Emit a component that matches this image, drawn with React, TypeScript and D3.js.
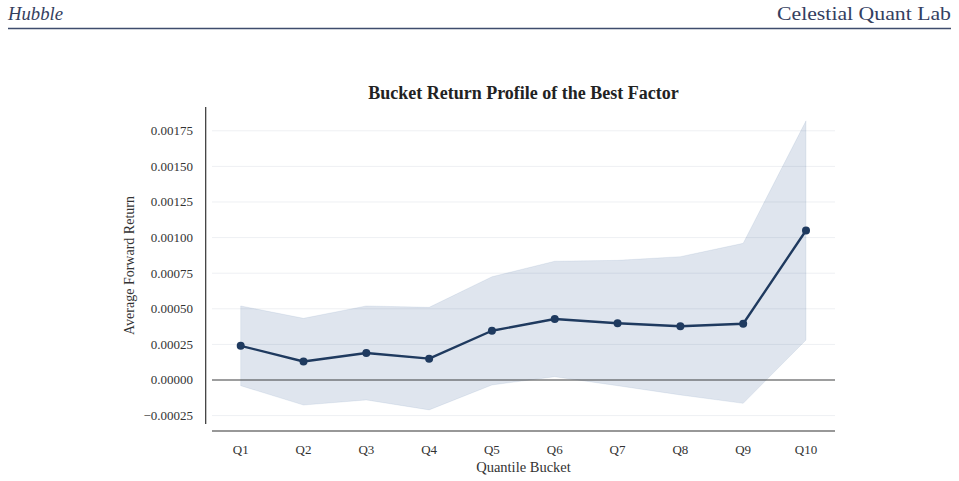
import React from "react";
import * as d3 from "d3";

const categories = ["Q1", "Q2", "Q3", "Q4", "Q5", "Q6", "Q7", "Q8", "Q9", "Q10"];
const meanReturn = [0.00024, 0.00013, 0.00019, 0.00015, 0.000346, 0.000428, 0.000398, 0.000377, 0.000395, 0.00105];
const upperBand = [0.00052, 0.000433, 0.00052, 0.00051, 0.000725, 0.000834, 0.00084, 0.000866, 0.00096, 0.00182];
const lowerBand = [-0.00004, -0.000176, -0.00014, -0.00021, -0.000035, 0.000023, -0.00004, -0.000105, -0.000164, 0.000281];
const yTicks = [-0.00025, 0, 0.00025, 0.0005, 0.00075, 0.001, 0.00125, 0.0015, 0.00175];

const W = 959;
const H = 481;
const plotLeft = 212;
const plotRight = 835;
const plotTop = 107;
const plotBottom = 424;
const serif = "'Liberation Serif', 'Times New Roman', serif";
const navy = "#1f3a5f";

export default function App() {
  const x = d3
    .scalePoint<string>()
    .domain(categories)
    .range([240.7, 806]);
  const y = d3.scaleLinear().domain([-0.000309, 0.001917]).range([plotBottom, plotTop]);

  const idx = categories.map((_, i) => i);
  const area = d3
    .area<number>()
    .x((i) => x(categories[i]) as number)
    .y0((i) => y(lowerBand[i]))
    .y1((i) => y(upperBand[i]));
  const line = d3
    .line<number>()
    .x((i) => x(categories[i]) as number)
    .y((i) => y(meanReturn[i]));

  return (
    <svg
      width={W}
      height={H}
      style={{ position: "absolute", left: 0, top: 0, background: "#fff" }}
      fontFamily={serif}
    >
      {/* header */}
      <text x={8} y={19.5} fontSize={19} fontStyle="italic" fill="#34405f" textLength={55} lengthAdjust="spacingAndGlyphs">
        Hubble
      </text>
      <text x={777} y={19.5} fontSize={19} fill="#34405f" textLength={174} lengthAdjust="spacingAndGlyphs">
        Celestial Quant Lab
      </text>
      <line x1={8} x2={951} y1={28.5} y2={28.5} stroke="#3f4d6d" strokeWidth={1.3} />

      {/* title */}
      <text
        x={(plotLeft + plotRight) / 2}
        y={98.5}
        fontSize={18}
        fontWeight="bold"
        textAnchor="middle"
        fill="#222"
      >
        Bucket Return Profile of the Best Factor
      </text>

      {/* gridlines */}
      {yTicks.map((t) => (
        <line
          key={"g" + t}
          x1={plotLeft}
          x2={plotRight}
          y1={y(t)}
          y2={y(t)}
          stroke="#eef0f3"
          strokeWidth={1}
        />
      ))}

      {/* band */}
      <path d={area(idx) || ""} fill="#1f4a8a" fillOpacity={0.14} stroke="#1f4a8a" strokeOpacity={0.08} strokeWidth={1} />

      {/* zero line */}
      <line x1={plotLeft} x2={plotRight} y1={y(0)} y2={y(0)} stroke="#444" strokeWidth={1.1} />

      {/* mean line */}
      <path d={line(idx) || ""} fill="none" stroke={navy} strokeWidth={2.4} strokeLinejoin="round" />
      {idx.map((i) => (
        <circle key={"c" + i} cx={x(categories[i])} cy={y(meanReturn[i])} r={4} fill={navy} />
      ))}

      {/* axes */}
      <line x1={205.7} x2={205.7} y1={plotTop} y2={plotBottom} stroke="#333" strokeWidth={1.2} />
      <line x1={plotLeft} x2={plotRight} y1={431} y2={431} stroke="#333" strokeWidth={1.2} />

      {yTicks.map((t) => (
        <text key={"t" + t} x={193} y={y(t) + 4.5} fontSize={13} textAnchor="end" fill="#333">
          {t < 0 ? "\u2212" + d3.format(".5f")(-t) : d3.format(".5f")(t)}
        </text>
      ))}
      {categories.map((c) => (
        <text key={"x" + c} x={x(c)} y={454} fontSize={13} textAnchor="middle" fill="#333">
          {c}
        </text>
      ))}

      <text
        transform={`translate(134, ${(plotTop + plotBottom) / 2}) rotate(-90)`}
        fontSize={14}
        textAnchor="middle"
        fill="#333"
      >
        Average Forward Return
      </text>
      <text x={(plotLeft + plotRight) / 2} y={472} fontSize={14.5} textAnchor="middle" fill="#333">
        Quantile Bucket
      </text>
    </svg>
  );
}
